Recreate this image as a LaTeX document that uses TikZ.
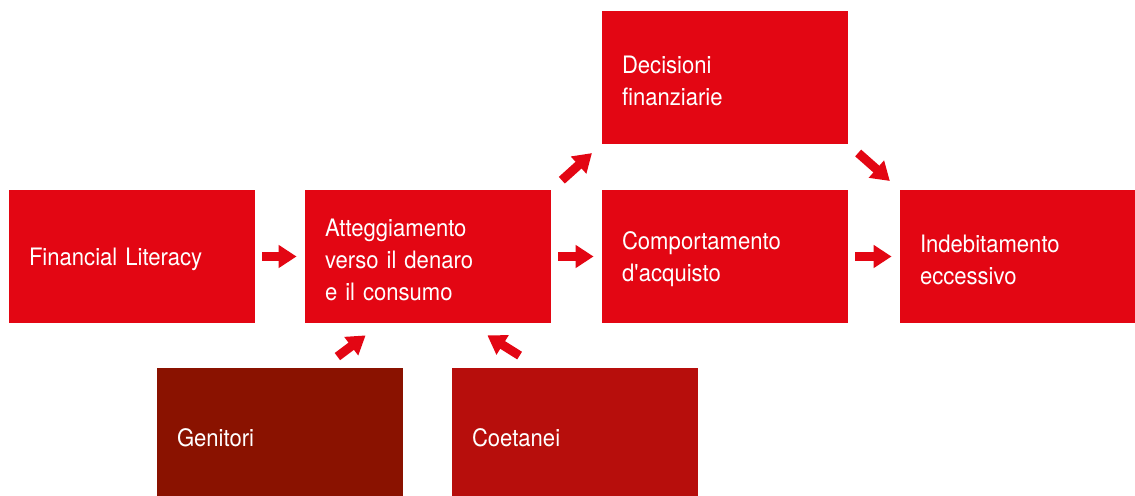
\documentclass[tikz,border=0pt]{standalone}
\usepackage{fontspec}
\setmainfont{TeX Gyre Heros}[FakeStretch=0.92]
\usepackage{tikz}
\usetikzlibrary{arrows.meta,positioning,calc}
\usepackage{xcolor}

\definecolor{boxred}{HTML}{E30613}
\definecolor{genred}{HTML}{8A1200}
\definecolor{coered}{HTML}{B70E0C}

\tikzset{
    box/.style={fill=boxred, text=white, minimum width=123pt, minimum height=66.5pt,
        inner xsep=10pt, text width=103pt, align=left,
        execute at begin node={\rule{0pt}{12pt}},
        font=\fontsize{12pt}{16pt}\selectfont},
    blk/.style={draw=boxred, line width=4.5pt,
        -{Triangle[length=9pt,width=11pt]}},
}

\begin{document}
\begin{tikzpicture}[x=0.5pt, y=-0.5pt]
    \useasboundingbox (0,0) rectangle (1135,496);

    \node[box] (fin) at (132, 256.5) {Financial Literacy};
    \node[box] (att) at (428, 256.5) {Atteggiamento\\verso il denaro\\e il consumo};
    \node[box] (dec) at (725, 77.5) {Decisioni\\finanziarie};
    \node[box] (com) at (725, 256.5) {Comportamento\\d\textquotesingle acquisto};
    \node[box] (ind) at (1023, 256.5) {Indebitamento\\eccessivo};
    \node[box, fill=genred] (gen) at (280, 434.5) {Genitori};
    \node[box, fill=coered] (coe) at (575, 434.5) {Coetanei};

    \draw[blk, shorten <=3.5pt, shorten >=4pt] (fin) -- (att);
    \draw[blk, shorten <=3.5pt, shorten >=4pt] (att) -- (com);
    \draw[blk, shorten <=3.5pt, shorten >=4pt] (com) -- (ind);
    \draw[blk, shorten <=7pt, shorten >=6.5pt] (att.north east) -- (dec.south west);
    \draw[blk, shorten <=6.5pt, shorten >=6.5pt] (dec.south east) -- (ind.north west);
    \draw[blk] ([xshift=-33pt,yshift=5.5pt]gen.north east) -- ([xshift=30.5pt,yshift=-6pt]att.south west);
    \draw[blk] ([xshift=34pt,yshift=6pt]coe.north west) -- ([xshift=-32pt,yshift=-6pt]att.south east);
\end{tikzpicture}
\end{document}
